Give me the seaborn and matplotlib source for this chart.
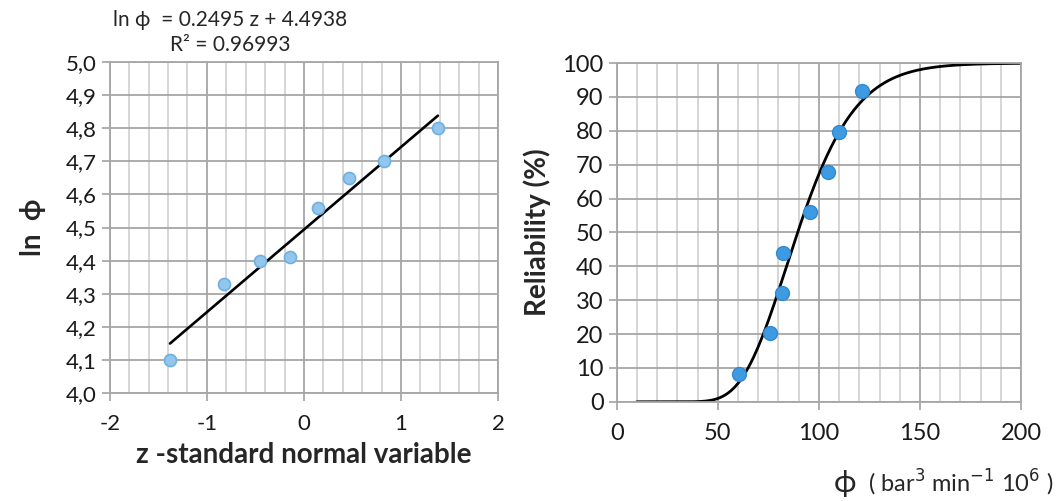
import numpy as np
import pandas as pd
import seaborn as sns
import matplotlib.pyplot as plt
from matplotlib.ticker import MultipleLocator
from math import erf

# data
z_vals = [-1.38, -0.82, -0.45, -0.14, 0.15, 0.46, 0.83, 1.38]
ln_phi = [4.10, 4.33, 4.40, 4.41, 4.56, 4.65, 4.70, 4.80]
phi_vals = [60.3, 75.9, 81.5, 82.3, 95.6, 104.6, 109.9, 121.5]
reliability = [8.3, 20.2, 32.1, 44.0, 56.0, 67.9, 79.8, 91.7]

# fitted line printed on the chart
slope = 0.2495
intercept = 4.4938
r2 = 0.96993

sns.set_theme(style="white")
plt.rcParams['font.family'] = ['Lato', 'DejaVu Sans']

fig = plt.figure(figsize=(10.56, 5.01), dpi=100)
ax1 = fig.add_axes([0.104, 0.2156, 0.3676, 0.6604])
ax2 = fig.add_axes([0.584, 0.198, 0.383, 0.676])

major_c = '#A6A6A6'
minor_c = '#CCCCCC'


def style_axes(ax):
    ax.grid(which='minor', color=minor_c, lw=1.1)
    ax.grid(which='major', color=major_c, lw=1.3)
    ax.set_axisbelow(True)
    for s in ax.spines.values():
        s.set_color(major_c)
        s.set_linewidth(1.3)
    ax.tick_params(which='major', length=6, color=major_c, labelsize=16,
                   labelcolor='#1a1a1a', direction='out', bottom=True, left=True)
    ax.tick_params(which='minor', length=0)
    ax.tick_params(axis='x', pad=9)


# left panel - linear fit of ln phi vs z
df1 = pd.DataFrame({'z': z_vals, 'lnphi': ln_phi})
fit_z = [min(z_vals), max(z_vals)]
fit_df = pd.DataFrame({'z': fit_z, 'lnphi': [slope * v + intercept for v in fit_z]})
sns.lineplot(data=fit_df, x='z', y='lnphi', ax=ax1, color='black', lw=1.9)
sns.scatterplot(data=df1, x='z', y='lnphi', ax=ax1, s=75, color='#92C6EC',
                edgecolor='#6FB0E2', linewidth=1.2, zorder=5)
ax1.set_xlim(-2, 2)
ax1.set_ylim(4.0, 5.0)
ax1.xaxis.set_major_locator(MultipleLocator(1))
ax1.xaxis.set_minor_locator(MultipleLocator(0.2))
ax1.yaxis.set_major_locator(MultipleLocator(0.1))
ax1.yaxis.set_major_formatter(plt.FuncFormatter(lambda v, p: f'{v:.1f}'.replace('.', ',')))
ax1.xaxis.set_major_formatter(plt.FuncFormatter(lambda v, p: f'{v:.0f}'))
style_axes(ax1)
ax1.set_xlabel('z -standard normal variable', fontsize=20, fontweight='bold', labelpad=6)
ax1.set_ylabel('ln  \u03d5', fontsize=20, fontweight='bold', labelpad=14)
fig.text(0.218, 0.96, f'ln \u03d5  = {slope} z + {intercept}', fontsize=15,
         ha='center', va='center')
fig.text(0.218, 0.91, f'R\u00b2 = {r2}', fontsize=15, ha='center', va='center')

# right panel - lognormal reliability curve
df2 = pd.DataFrame({'phi': phi_vals, 'rel': reliability})
phi_grid = np.linspace(10, 200, 300)
cdf = [50 * (1 + erf((np.log(p) - intercept) / (slope * np.sqrt(2)))) for p in phi_grid]
curve_df = pd.DataFrame({'phi': phi_grid, 'rel': cdf})
sns.lineplot(data=curve_df, x='phi', y='rel', ax=ax2, color='black', lw=2.0)
sns.scatterplot(data=df2, x='phi', y='rel', ax=ax2, s=100, color='#3E9BE2',
                edgecolor='#2F8AD4', linewidth=1.0, zorder=5)
ax2.set_xlim(0, 200)
ax2.set_ylim(0, 100)
ax2.xaxis.set_major_locator(MultipleLocator(50))
ax2.xaxis.set_minor_locator(MultipleLocator(10))
ax2.yaxis.set_major_locator(MultipleLocator(10))
style_axes(ax2)
ax2.tick_params(labelsize=17)
ax2.set_xlabel('')
ax2.set_ylabel('Reliability (%)', fontsize=20, fontweight='bold', labelpad=8)
fig.text(0.80, 0.035, '\u03d5', fontsize=22, ha='center', va='center')
fig.text(0.822, 0.035, '( bar$^3$ min$^{-1}$ 10$^6$ )', fontsize=17,
         ha='left', va='center')

fig.savefig('out.png', dpi=100)
